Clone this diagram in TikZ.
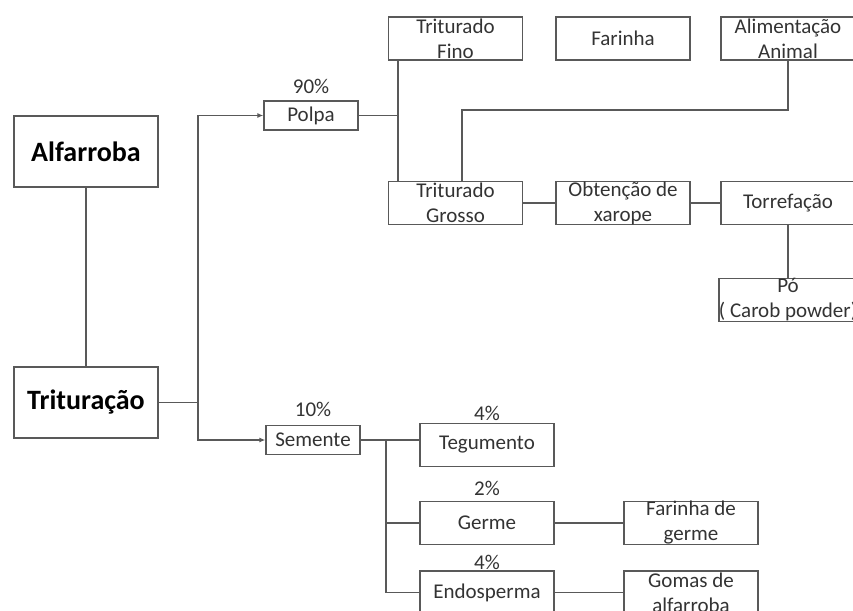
\documentclass[tikz,border=0pt]{standalone}
\usepackage{fontspec}
\setmainfont{Carlito}
\usepackage{xcolor}
\usetikzlibrary{arrows.meta, positioning, calc}

\begin{document}
\begin{tikzpicture}[x=1pt, y=-1pt, >={Latex[length=6pt,width=5pt]},
  line/.style={draw=black!65, line width=1.3pt},
  box/.style={line, minimum width=134pt, minimum height=43pt, inner sep=0pt,
    align=center, text=black!80, font=\fontsize{21}{25}\selectfont},
  smallbox/.style={box, minimum width=94pt, minimum height=29pt},
  bigbox/.style={line, minimum width=144pt, minimum height=71pt, inner sep=0pt,
    font=\fontsize{28}{30}\selectfont\bfseries},
  pct/.style={text=black!80, inner sep=0pt, font=\fontsize{21}{24}\selectfont}]
\useasboundingbox (0,0) rectangle (853,610);
\clip (0,0) rectangle (853,610);

\node[bigbox] (alf) at (86,151.5) {Alfarroba};
\node[bigbox] (trit) at (86,402.5) {Trituração};

\node[smallbox] (polpa) at (311,115.5) {Polpa};
\node[pct] (p90) at (311,86) {90\%};
\node[smallbox] (semente) at (313,440) {Semente};
\node[pct] (p10) at (313,409) {10\%};

\node[box] (tfino) at (455.5,38.5) {Triturado\\Fino};
\node[box] (farinha) at (623,38.5) {Farinha};
\node[box] (alim) at (788,38.5) {Alimentação\\Animal};
\node[box] (tgrosso) at (455.5,203) {Triturado\\Grosso};
\node[box] (xarope) at (623,203) {Obtenção de\\xarope};
\node[box] (torref) at (788,203) {Torrefação};
\node[box] (po) at (788,300) {Pó\\( Carob powder)};

\node[box] (tegum) at (487,445) {Tegumento};
\node[pct] (p4a) at (487,413) {4\%};
\node[box] (germe) at (487,523) {Germe};
\node[pct] (p2) at (487,488) {2\%};
\node[box] (endo) at (487,592.5) {Endosperma};
\node[pct] (p4b) at (487,562) {4\%};
\node[box] (fgerme) at (691,523) {Farinha de\\germe};
\node[box] (gomas) at (691,592.5) {Gomas de\\alfarroba};

\coordinate (tj) at (198,0);
\coordinate (pj) at (398,0);
\coordinate (ak) at (462,110);
\coordinate (sj) at (386,0);

\draw[line] (alf) -- (trit);
\draw[line] (trit.east) -- (trit.east -| tj);
\draw[line,->] (trit.east -| tj) |- (polpa.west);
\draw[line,->] (trit.east -| tj) |- (semente.west);

\draw[line] (polpa.east) -- (polpa.east -| pj);
\draw[line] (tfino.south -| pj) -- (tgrosso.north -| pj);
\draw[line] (alim.south) |- (ak) -- (ak |- tgrosso.north);
\draw[line] (tgrosso) -- (xarope);
\draw[line] (xarope) -- (torref);
\draw[line] (torref) -- (po);

\draw[line] (semente.east) -- (semente.east -| tegum.west);
\draw[line] (semente.east -| sj) |- (endo.west);
\draw[line] (sj |- germe.west) -- (germe.west);
\draw[line] (germe) -- (fgerme);
\draw[line] (endo) -- (gomas);
\end{tikzpicture}
\end{document}
